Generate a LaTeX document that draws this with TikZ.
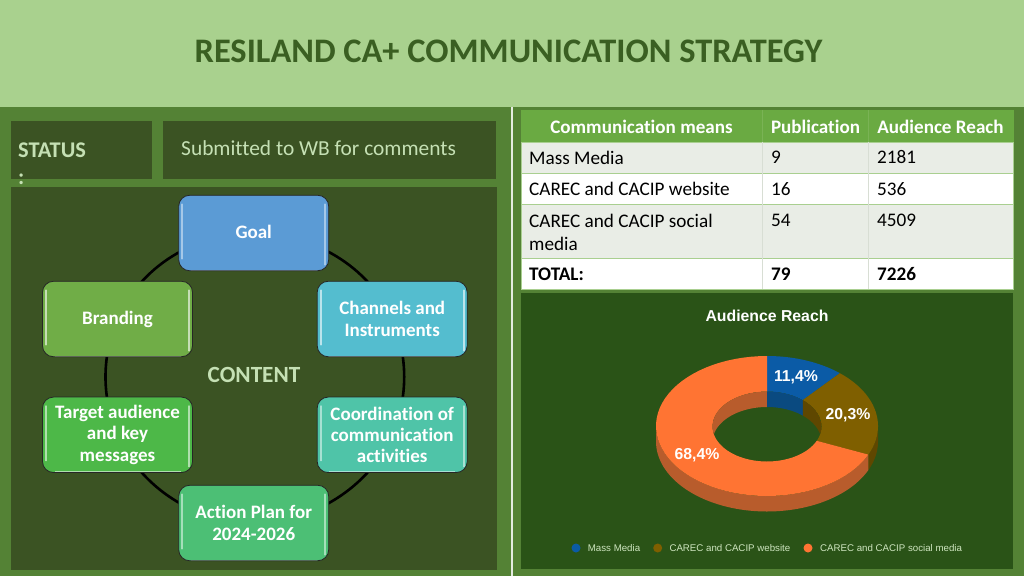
\documentclass[tikz,border=0pt]{standalone}
\usepackage{fontspec}
\setmainfont[Ligatures=CommonOff]{Carlito}
\newfontfamily\chartfont{Liberation Sans}
\definecolor{bandc}{HTML}{A9D18E}
\definecolor{titlec}{HTML}{3A5F22}
\definecolor{pagec}{HTML}{548235}
\definecolor{panelc}{HTML}{3B5323}
\definecolor{softc}{HTML}{C5E0B4}
\definecolor{chartc}{HTML}{2A5317}
\definecolor{headc}{HTML}{6AAA42}
\definecolor{rowc}{HTML}{E9EDE6}
\definecolor{rulec}{HTML}{A9CF90}
\definecolor{colrulec}{HTML}{D8DED4}
\definecolor{bluec}{HTML}{0B5BA6}
\definecolor{browc}{HTML}{7F5F00}
\definecolor{orangc}{HTML}{FF7433}
\definecolor{bluedk}{HTML}{0A4A80}
\definecolor{browdk}{HTML}{5F4700}
\definecolor{orangdk}{HTML}{B85C2C}
\definecolor{goalc}{HTML}{5B9BD5}
\definecolor{chanc}{HTML}{54BDCF}
\definecolor{coordc}{HTML}{4FC4A8}
\definecolor{actc}{HTML}{4CBF75}
\definecolor{targc}{HTML}{4DB848}
\definecolor{brandc}{HTML}{70AD47}
\pgfdeclarelayer{background}
\pgfsetlayers{background,main}
\newcommand{\boxstrut}{\rule[-4pt]{0pt}{19pt}}
\newcommand{\ringpart}[5]{% rx ry a b colour : flat ring sector
  \fill[#5] plot[domain=#3:#4] ({767+111*sin(\x)},{426-70*cos(\x)})
    -- plot[domain=#4:#3] ({767+54.5*sin(\x)},{426.5-35*cos(\x)}) -- cycle;}
\newcommand{\wallpart}[6]{% rx ry y0 a b colour : extruded wall
  \fill[#6] plot[domain=#4:#5] ({767+#1*sin(\x)},{#3-#2*cos(\x)})
    -- plot[domain=#5:#4] ({767+#1*sin(\x)},{#3+15.5-#2*cos(\x)}) -- cycle;}
\tikzset{
  every plot/.style={samples=60},
  panel/.style={fill=panelc,draw=none},
  glass/.style 2 args={rectangle,rounded corners=11pt,minimum width=150pt,minimum height=75.5pt,inner sep=0pt,
    fill=#1,draw=black!85,line width=.8pt,text=white,align=center,
    font=\fontsize{19}{21.3}\selectfont\bfseries,
    path picture={
      \draw[#2,line width=1.6pt,line cap=round]
        ([xshift=3.5pt,yshift=-9pt]path picture bounding box.north west) -- ([xshift=3.5pt,yshift=12pt]path picture bounding box.south west);
      \draw[#2,line width=1.6pt,line cap=round]
        ([xshift=-3.5pt,yshift=-9pt]path picture bounding box.north east) -- ([xshift=-3.5pt,yshift=6pt]path picture bounding box.south east);
      \draw[#2,line width=1.2pt]
        ([xshift=12pt,yshift=.6pt]path picture bounding box.south west) -- ([xshift=-12pt,yshift=.6pt]path picture bounding box.south east);
    }},
  ring/.style={draw=black,line width=2.6pt},
  cell/.style={anchor=west,inner sep=0pt,text=black,font=\fontsize{19.2}{23}\selectfont,align=left},
  hcell/.style={inner sep=0pt,text=white,font=\fontsize{19.1}{23}\selectfont\bfseries},
  tcell/.style={cell,font=\fontsize{19.2}{23}\selectfont\bfseries},
  pct/.style={inner sep=0pt,text=white,font=\chartfont\fontsize{15.8}{18}\selectfont\bfseries},
  legtext/.style={anchor=west,inner sep=0pt,text=softc!85!white,font=\chartfont\fontsize{9.7}{11}\selectfont},
}
\begin{document}
\begin{tikzpicture}[x=1pt,y=-1pt]
\useasboundingbox (0,0) rectangle (1024,576);
\begin{pgfonlayer}{background}
  \fill[pagec] (0,0) rectangle (1024,576);
  \fill[bandc] (0,0) rectangle (1024,107);
  \fill[white!85!pagec] (511,107) rectangle (513,576);
  \fill[panel] (11,121) rectangle (152,179);
  \fill[panel] (163,121) rectangle (496,179);
  \fill[panel] (11,187) rectangle (497,570);
  % table
  \fill[rulec] (520.5,142) rectangle (1013.5,290);
  \fill[headc] (520.5,110) rectangle (1013.5,142);
  \fill[rowc] (521.5,142.5) rectangle (1012.5,172.5);
  \fill[white] (521.5,173.5) rectangle (1012.5,203.5);
  \fill[rowc] (521.5,204.5) rectangle (1012.5,257.5);
  \fill[white] (521.5,258.5) rectangle (1012.5,288.5);
  \draw[colrulec,line width=.5pt] (762.7,142) -- (762.7,289) (868.7,142) -- (868.7,289);
  \draw[rulec!25!headc,line width=.5pt] (762.7,110) -- (762.7,142) (868.7,110) -- (868.7,142);
  \fill[chartc] (521,293) rectangle (1013,569);
\end{pgfonlayer}

\node[inner sep=0pt,text=titlec,font=\fontsize{34.4}{38}\selectfont\bfseries] (title) at (508.5,51) {RESILAND CA+ COMMUNICATION STRATEGY};
\node[anchor=north west,inner sep=0pt,align=left,text=softc,font=\fontsize{22.4}{27}\selectfont\bfseries] (status) at (18,143) {STATUS\\:};
\node[anchor=west,inner sep=0pt,text=softc,font=\fontsize{21.4}{24}\selectfont] (submitted) at (181,148) {Submitted to WB for comments};
\node[inner sep=0pt,text=softc,font=\fontsize{23.2}{26}\selectfont\bfseries] (content) at (254,375) {CONTENT};

\node[glass={goalc}{white!45!goalc}] (goal) at (253.7,233) {\boxstrut Goal};
\node[glass={chanc}{white!60!chanc}] (channels) at (392.2,319) {Channels and\\Instruments};
\node[glass={coordc}{white!50!coordc}] (coord) at (392.2,434.8) {Coordination of\\communication\\activities};
\node[glass={actc}{white!50!actc}] (action) at (253.7,523) {Action Plan for\\2024-2026};
\node[glass={targc}{white!55!targc}] (target) at (117.5,434.8) {Target audience\\and key\\messages};
\node[glass={brandc}{white!60!brandc}] (branding) at (117.5,319) {\boxstrut Branding};

\begin{pgfonlayer}{background}
  \draw[ring] (goal.center) .. controls +(-58,0) and +(23,-53) .. (branding.center);
  \draw[ring] (branding.center) .. controls +(-16,37) and +(-16,-37) .. (target.center);
  \draw[ring] (target.center) .. controls +(23,53) and +(-58,0) .. (action.center);
  \draw[ring] (action.center) .. controls +(58,0) and +(-23,53) .. (coord.center);
  \draw[ring] (coord.center) .. controls +(16,-37) and +(16,37) .. (channels.center);
  \draw[ring] (channels.center) .. controls +(-23,-53) and +(58,0) .. (goal.center);
\end{pgfonlayer}

% table text
\node[hcell] (h1) at (641.5,126.7) {Communication means};
\node[hcell] (h2) at (815.5,126.7) {Publication};
\node[hcell] (h3) at (940.5,126.7) {Audience Reach};
\node[cell] (a1) at (529,157.5) {Mass Media};
\node[cell] (b1) at (771,157.5) {9};
\node[cell] (c1) at (877,157.5) {2181};
\node[cell] (a2) at (529,189) {CAREC and CACIP website};
\node[cell] (b2) at (771,189) {16};
\node[cell] (c2) at (877,189) {536};
\node[cell,anchor=north west] (a3) at (529,214) {CAREC and CACIP social\\media};
\node[cell] (b3) at (771,220) {54};
\node[cell] (c3) at (877,220) {4509};
\node[tcell] (a4) at (529,274) {TOTAL:};
\node[tcell] (b4) at (771,274) {79};
\node[tcell] (c4) at (877,274) {7226};

% chart
\node[inner sep=0pt,text=white,font=\chartfont\fontsize{15.8}{18}\selectfont\bfseries] (ctitle) at (767,315.5) {Audience Reach};
\wallpart{111}{70}{426}{90}{114.1}{browdk}
\wallpart{111}{70}{426}{114.1}{270}{orangdk}
\ringpart{111}{70}{0}{41}{bluec}
\ringpart{111}{70}{41}{114.1}{browc}
\ringpart{111}{70}{114.1}{360}{orangc}
\begin{scope}
  \clip (767,426.5) ellipse [x radius=54.5,y radius=35];
  \wallpart{54.5}{35}{426.5}{-90}{0}{orangdk}
  \wallpart{54.5}{35}{426.5}{0}{41}{bluedk}
  \wallpart{54.5}{35}{426.5}{41}{90}{browdk}
\end{scope}
\node[pct] (p1) at (796,377) {11,4\%};
\node[pct] (p2) at (848,415) {20,3\%};
\node[pct] (p3) at (697,455) {68,4\%};
\fill[bluec] (576,548) circle (4.5);
\fill[browc] (657.7,548) circle (4.5);
\fill[orangc] (808,548) circle (4.5);
\node[legtext] (l1) at (587.7,548) {Mass Media};
\node[legtext] (l2) at (669.3,548) {CAREC and CACIP website};
\node[legtext] (l3) at (820,548) {CAREC and CACIP social media};
\end{tikzpicture}
\end{document}
